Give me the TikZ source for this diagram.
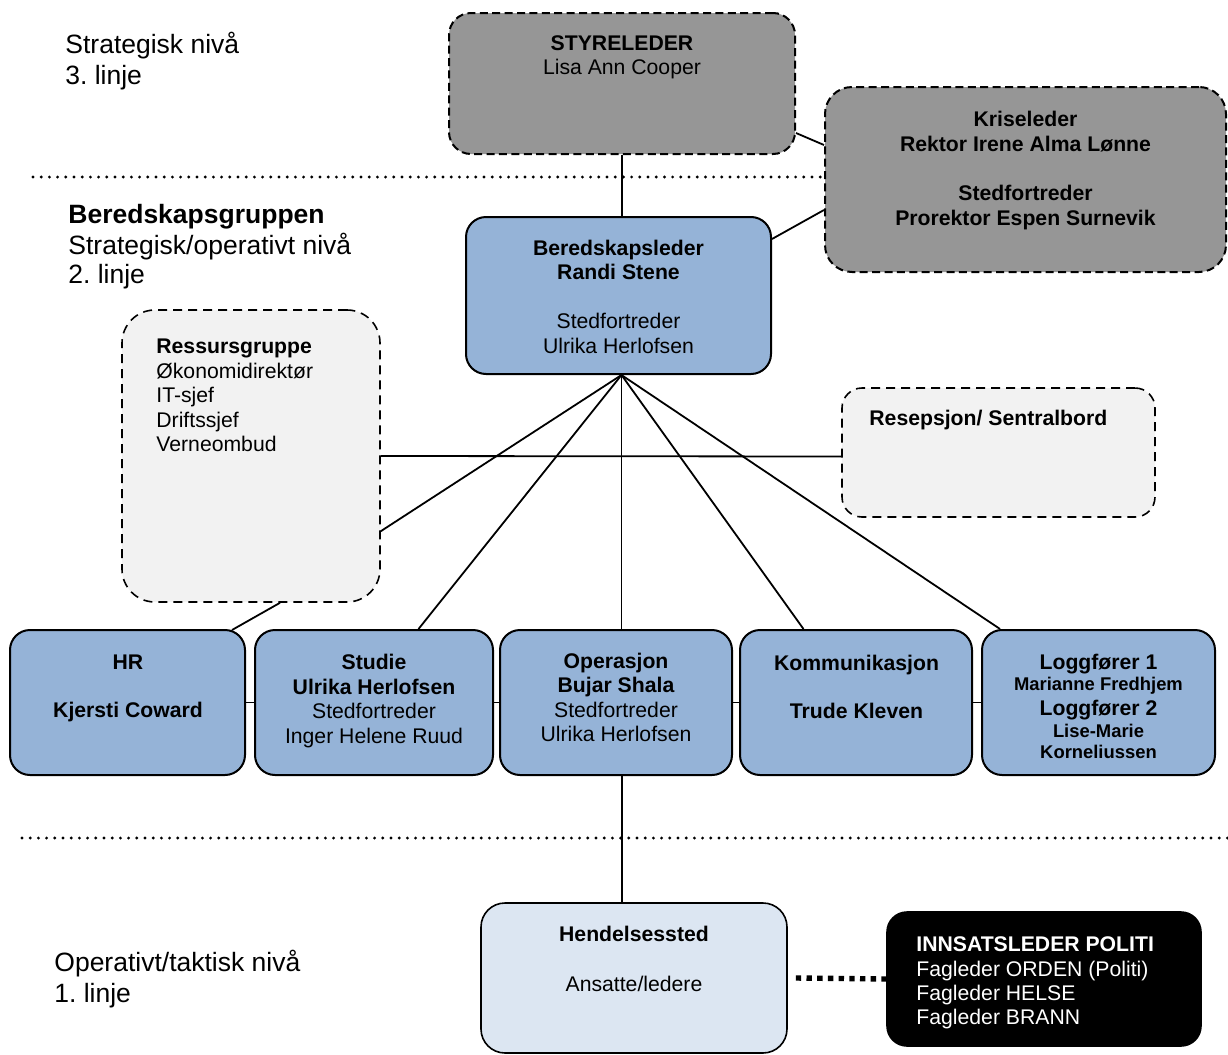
\documentclass[tikz,border=0pt]{standalone}
\usepackage{fontspec}
\setmainfont{Liberation Sans}
\usetikzlibrary{calc}
\definecolor{grayfill}{HTML}{969696}
\definecolor{bluefill}{HTML}{95B3D7}
\definecolor{lightfill}{HTML}{F2F2F2}
\definecolor{palefill}{HTML}{DCE6F2}
\frenchspacing
\begin{document}
\begin{tikzpicture}[x=0.5pt,y=-0.5pt,
  graybox/.style={draw=black, fill=grayfill, line width=1pt, dash pattern=on 4pt off 2.2pt, rounded corners=11pt, inner sep=0pt},
  bluebox/.style={draw=black, fill=bluefill, line width=1pt, rounded corners=10pt, inner sep=0pt},
  lightbox/.style={draw=black, fill=lightfill, line width=0.8pt, dash pattern=on 4.5pt off 3pt, rounded corners=10pt, inner sep=0pt},
  bottombox/.style={bluebox, minimum height=72.5pt},
  conn/.style={line width=0.9pt},
  levelline/.style={line width=1.6pt, line cap=round, dash pattern=on 0pt off 4.1pt},
  thickdot/.style={line width=2.7pt, dash pattern=on 2.7pt off 2.65pt},
  txt/.style={inner sep=0pt, anchor=base, font=\fontsize{10.6}{12}\selectfont},
  btxt/.style={txt, font=\fontsize{10.6}{12}\selectfont\bfseries},
  stxt/.style={txt, font=\fontsize{9.2}{11}\selectfont\bfseries},
  ltxt/.style={txt, anchor=base west},
  lbtxt/.style={btxt, anchor=base west},
  lbl/.style={inner sep=0pt, anchor=base west, font=\fontsize{13.25}{15}\selectfont},
  blbl/.style={lbl, font=\fontsize{13.25}{15}\selectfont\bfseries}]
\useasboundingbox (0,0) rectangle (1228,1055);

% level separators
\coordinate (lv1) at (33,177);
\coordinate (lv2a) at (22,838);
\coordinate (lv2b) at (1228,838);

% boxes
\node[graybox, minimum width=173pt, minimum height=70.5pt] (sty) at (622,83.5) {};
\node[graybox, minimum width=200.5pt, minimum height=92.5pt, rounded corners=13.5pt] (kris) at (1025.5,179.5) {};
\node[bluebox, minimum width=152.5pt, minimum height=78.5pt] (bered) at (618.5,295.5) {};
\node[lightbox, minimum width=129pt, minimum height=146pt, rounded corners=16.5pt] (ress) at (251,456) {};
\node[lightbox, minimum width=156.5pt, minimum height=64.5pt] (resep) at (998.5,452.5) {};
\node[bottombox, minimum width=117.5pt] (hr) at (127.5,702.5) {};
\node[bottombox, minimum width=119pt] (stud) at (374,702.5) {};
\node[bottombox, minimum width=116pt] (oper) at (616,702.5) {};
\node[bottombox, minimum width=116pt] (komm) at (856,702.5) {};
\node[bottombox, minimum width=116.5pt] (logg) at (1098.5,702.5) {};
\node[draw=black, fill=palefill, line width=0.8pt, rounded corners=12pt, inner sep=0pt, minimum width=153pt, minimum height=75pt] (hend) at (634,978) {};
\node[draw=black, fill=black, line width=0.8pt, rounded corners=10pt, inner sep=0pt, minimum width=157pt, minimum height=67pt] (inns) at (1044,979) {};

\draw[levelline] (lv1) -- (lv1 -| kris.west);
\draw[levelline] (lv2a) -- (lv2b);

% connectors
\coordinate (hub) at ($(bered.south)+(3,0)$);
\coordinate (o1) at ($(oper.south)+(6,0)$);
\draw[conn] (sty.south) -- (sty.south |- bered.north);
\draw[conn] ($(sty.south east)+(0,-22)$) -- ($(kris.north west)+(0,59)$);
\draw[conn] ($(bered.north east)+(0,23)$) -- ($(kris.north west)+(0,124)$);
\draw[conn] (hub) -- ($(ress.north east)+(0,222)$);
\draw[conn] (hub) -- ($(stud.north)+(44.5,0)$);
\draw[conn] (hub) -- (oper.north -| hub);
\draw[conn] (hub) -- ($(komm.north)+(-52.5,0)$);
\draw[conn] (hub) -- ($(logg.north)+(-98.5,0)$);
\draw[conn] (ress.east) -- ($(resep.west)+(0,4)$);
\draw[conn] ($(hr.north east)+(-14,1)$) -- ($(ress.south)+(29,0)$);
\draw[conn] (hr.east) -- (stud.west);
\draw[conn] (stud.east) -- (oper.west);
\draw[conn] (oper.east) -- (komm.west);
\draw[conn] (komm.east) -- (logg.west);
\draw[conn] (o1) -- (o1 |- hend.north);
\draw[thickdot] ($(hend.east)+(8,0)$) -- (inns.west);

% left labels
\node[lbl] (l1) at (65,53) {Strategisk nivå};
\node[lbl] (l2) at (65,84) {3. linje};
\node[blbl] (l3) at (68,223) {Beredskapsgruppen};
\node[lbl] (l4) at (68,254.5) {Strategisk/operativt nivå};
\node[lbl] (l5) at (68,283.5) {2. linje};
\node[lbl] (l6) at (54,971) {Operativt/taktisk nivå};
\node[lbl] (l7) at (54,1002) {1. linje};

% box texts
\node[btxt] (sty1) at (622,50.5) {STYRELEDER};
\node[txt] (sty2) at (622,74) {Lisa Ann Cooper};

\node[btxt] (kr1) at (1025.5,126) {Kriseleder};
\node[btxt] (kr2) at (1025.5,151) {Rektor Irene Alma Lønne};
\node[btxt] (kr3) at (1025.5,200) {Stedfortreder};
\node[btxt] (kr4) at (1025.5,225) {Prorektor Espen Surnevik};

\node[btxt] (be1) at (618.5,255) {Beredskapsleder};
\node[btxt] (be2) at (618.5,279.5) {Randi Stene};
\node[txt] (be3) at (618.5,328.5) {Stedfortreder};
\node[txt] (be4) at (618.5,353) {Ulrika Herlofsen};

\node[lbtxt] (rs1) at (156,353.5) {Ressursgruppe};
\node[ltxt] (rs2) at (156,378) {Økonomidirektør};
\node[ltxt] (rs3) at (156,402.5) {IT-sjef};
\node[ltxt] (rs4) at (156,427) {Driftssjef};
\node[ltxt] (rs5) at (156,451.5) {Verneombud};

\node[lbtxt] (re1) at (869,425) {Resepsjon/ Sentralbord};

\node[btxt] (hr1) at (128,669) {HR};
\node[btxt] (hr2) at (128,717) {Kjersti Coward};

\node[btxt] (st1) at (374,669.5) {Studie};
\node[btxt] (st2) at (374,694) {Ulrika Herlofsen};
\node[txt] (st3) at (374,718.5) {Stedfortreder};
\node[txt] (st4) at (374,743) {Inger Helene Ruud};

\node[btxt] (op1) at (616,668.5) {Operasjon};
\node[btxt] (op2) at (616,692.5) {Bujar Shala};
\node[txt] (op3) at (616,717) {Stedfortreder};
\node[txt] (op4) at (616,741.5) {Ulrika Herlofsen};

\node[btxt] (ko1) at (856.5,670) {Kommunikasjon};
\node[btxt] (ko2) at (856.5,718.5) {Trude Kleven};

\node[btxt] (lo1) at (1098.5,669.5) {Loggfører 1};
\node[stxt] (lo2) at (1098.5,690.5) {Marianne Fredhjem};
\node[btxt] (lo3) at (1098.5,715) {Loggfører 2};
\node[stxt] (lo4) at (1098.5,737) {Lise-Marie};
\node[stxt] (lo5) at (1098.5,758) {Korneliussen};

\node[btxt] (he1) at (634,941.5) {Hendelsessted};
\node[txt] (he2) at (634,991.5) {Ansatte/ledere};

\node[lbtxt, text=white] (in1) at (916,951.5) {INNSATSLEDER POLITI};
\node[ltxt, text=white] (in2) at (916,976) {Fagleder ORDEN (Politi)};
\node[ltxt, text=white] (in3) at (916,1000) {Fagleder HELSE};
\node[ltxt, text=white] (in4) at (916,1024.5) {Fagleder BRANN};
\end{tikzpicture}
\end{document}
